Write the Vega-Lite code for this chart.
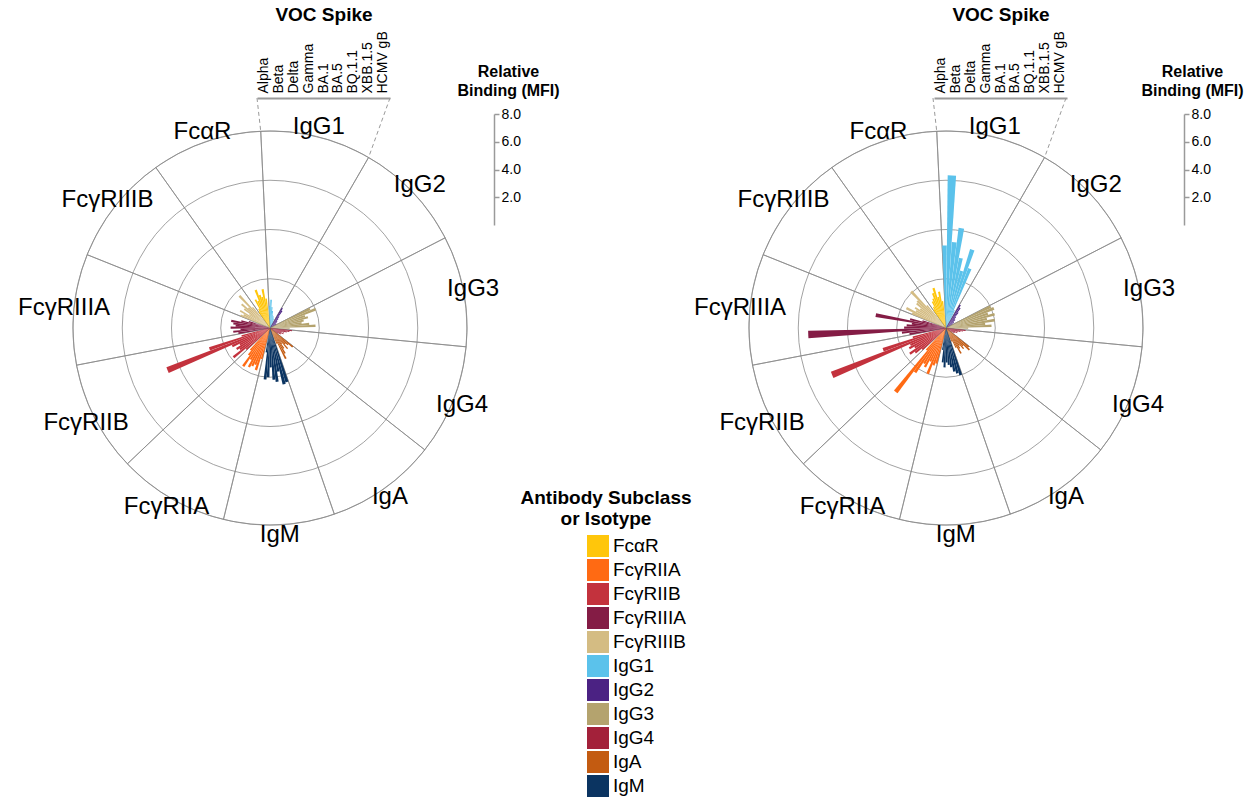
{
"$schema":"https://vega.github.io/schema/vega-lite/v6.json",
"autosize":{"type":"none"},
"padding":{"left":46,"top":104,"right":1211,"bottom":697},
"bounds":"flush",
"spacing":228,
"datasets":{
"sectors":[{"ab":"IgG1"},{"ab":"IgG2"},{"ab":"IgG3"},{"ab":"IgG4"},{"ab":"IgA"},{"ab":"IgM"},{"ab":"FcγRIIA"},{"ab":"FcγRIIB"},{"ab":"FcγRIIIA"},{"ab":"FcγRIIIB"},{"ab":"FcαR"}],
"rings":[{"r":2},{"r":4},{"r":6},{"r":8}],
"vocs":[{"voc":"Alpha"},{"voc":"Beta"},{"voc":"Delta"},{"voc":"Gamma"},{"voc":"BA.1"},{"voc":"BA.5"},{"voc":"BQ.1.1"},{"voc":"XBB.1.5"},{"voc":"HCMV gB"}],
"conn":[{"x":-0.528,"y":9.34,"x2":-0.377,"y2":7.991},{"x":4.873,"y":9.34,"x2":4.003,"y2":6.925}],
"L":[
{"ab":"IgG1","id":"IgG1|Alpha","v":0.9},{"ab":"IgG1","id":"IgG1|Beta","v":1.15},{"ab":"IgG1","id":"IgG1|Delta","v":0.85},{"ab":"IgG1","id":"IgG1|Gamma","v":0.7},{"ab":"IgG1","id":"IgG1|BA.1","v":0.55},{"ab":"IgG1","id":"IgG1|BA.5","v":0.5},{"ab":"IgG1","id":"IgG1|BQ.1.1","v":0.45},{"ab":"IgG1","id":"IgG1|XBB.1.5","v":0.4},{"ab":"IgG1","id":"IgG1|HCMV gB","v":0.3},
{"ab":"IgG2","id":"IgG2|Alpha","v":0.95},{"ab":"IgG2","id":"IgG2|Beta","v":0.85},{"ab":"IgG2","id":"IgG2|Delta","v":0.6},{"ab":"IgG2","id":"IgG2|Gamma","v":0.5},{"ab":"IgG2","id":"IgG2|BA.1","v":0.4},{"ab":"IgG2","id":"IgG2|BA.5","v":0.4},{"ab":"IgG2","id":"IgG2|BQ.1.1","v":0.35},{"ab":"IgG2","id":"IgG2|XBB.1.5","v":0.3},{"ab":"IgG2","id":"IgG2|HCMV gB","v":0.3},
{"ab":"IgG3","id":"IgG3|Alpha","v":1.8},{"ab":"IgG3","id":"IgG3|Beta","v":2.0},{"ab":"IgG3","id":"IgG3|Delta","v":1.5},{"ab":"IgG3","id":"IgG3|Gamma","v":1.6},{"ab":"IgG3","id":"IgG3|BA.1","v":1.4},{"ab":"IgG3","id":"IgG3|BA.5","v":1.3},{"ab":"IgG3","id":"IgG3|BQ.1.1","v":1.6},{"ab":"IgG3","id":"IgG3|XBB.1.5","v":1.85},{"ab":"IgG3","id":"IgG3|HCMV gB","v":0.8},
{"ab":"IgG4","id":"IgG4|Alpha","v":0.9},{"ab":"IgG4","id":"IgG4|Beta","v":0.8},{"ab":"IgG4","id":"IgG4|Delta","v":0.7},{"ab":"IgG4","id":"IgG4|Gamma","v":0.6},{"ab":"IgG4","id":"IgG4|BA.1","v":0.5},{"ab":"IgG4","id":"IgG4|BA.5","v":0.6},{"ab":"IgG4","id":"IgG4|BQ.1.1","v":0.5},{"ab":"IgG4","id":"IgG4|XBB.1.5","v":0.5},{"ab":"IgG4","id":"IgG4|HCMV gB","v":0.4},
{"ab":"IgA","id":"IgA|Alpha","v":1.2},{"ab":"IgA","id":"IgA|Beta","v":1.0},{"ab":"IgA","id":"IgA|Delta","v":0.9},{"ab":"IgA","id":"IgA|Gamma","v":1.1},{"ab":"IgA","id":"IgA|BA.1","v":0.8},{"ab":"IgA","id":"IgA|BA.5","v":1.0},{"ab":"IgA","id":"IgA|BQ.1.1","v":1.2},{"ab":"IgA","id":"IgA|XBB.1.5","v":1.4},{"ab":"IgA","id":"IgA|HCMV gB","v":0.7},
{"ab":"IgM","id":"IgM|Alpha","v":2.3},{"ab":"IgM","id":"IgM|Beta","v":2.35},{"ab":"IgM","id":"IgM|Delta","v":1.8},{"ab":"IgM","id":"IgM|Gamma","v":2.2},{"ab":"IgM","id":"IgM|BA.1","v":2.1},{"ab":"IgM","id":"IgM|BA.5","v":1.6},{"ab":"IgM","id":"IgM|BQ.1.1","v":2.0},{"ab":"IgM","id":"IgM|XBB.1.5","v":2.1},{"ab":"IgM","id":"IgM|HCMV gB","v":1.0},
{"ab":"FcγRIIA","id":"FcγRIIA|Alpha","v":1.3},{"ab":"FcγRIIA","id":"FcγRIIA|Beta","v":1.8},{"ab":"FcγRIIA","id":"FcγRIIA|Delta","v":1.6},{"ab":"FcγRIIA","id":"FcγRIIA|Gamma","v":1.7},{"ab":"FcγRIIA","id":"FcγRIIA|BA.1","v":1.8},{"ab":"FcγRIIA","id":"FcγRIIA|BA.5","v":1.5},{"ab":"FcγRIIA","id":"FcγRIIA|BQ.1.1","v":1.9},{"ab":"FcγRIIA","id":"FcγRIIA|XBB.1.5","v":1.4},{"ab":"FcγRIIA","id":"FcγRIIA|HCMV gB","v":1.2},
{"ab":"FcγRIIB","id":"FcγRIIB|Alpha","v":1.3},{"ab":"FcγRIIB","id":"FcγRIIB|Beta","v":1.9},{"ab":"FcγRIIB","id":"FcγRIIB|Delta","v":1.5},{"ab":"FcγRIIB","id":"FcγRIIB|Gamma","v":1.6},{"ab":"FcγRIIB","id":"FcγRIIB|BA.1","v":1.4},{"ab":"FcγRIIB","id":"FcγRIIB|BA.5","v":1.7},{"ab":"FcγRIIB","id":"FcγRIIB|BQ.1.1","v":4.5},{"ab":"FcγRIIB","id":"FcγRIIB|XBB.1.5","v":2.6},{"ab":"FcγRIIB","id":"FcγRIIB|HCMV gB","v":1.2},
{"ab":"FcγRIIIA","id":"FcγRIIIA|Alpha","v":1.3},{"ab":"FcγRIIIA","id":"FcγRIIIA|Beta","v":1.5},{"ab":"FcγRIIIA","id":"FcγRIIIA|Delta","v":1.2},{"ab":"FcγRIIIA","id":"FcγRIIIA|Gamma","v":1.6},{"ab":"FcγRIIIA","id":"FcγRIIIA|BA.1","v":1.4},{"ab":"FcγRIIIA","id":"FcγRIIIA|BA.5","v":1.5},{"ab":"FcγRIIIA","id":"FcγRIIIA|BQ.1.1","v":1.6},{"ab":"FcγRIIIA","id":"FcγRIIIA|XBB.1.5","v":1.2},{"ab":"FcγRIIIA","id":"FcγRIIIA|HCMV gB","v":0.9},
{"ab":"FcγRIIIB","id":"FcγRIIIB|Alpha","v":1.3},{"ab":"FcγRIIIB","id":"FcγRIIIB|Beta","v":1.2},{"ab":"FcγRIIIB","id":"FcγRIIIB|Delta","v":1.4},{"ab":"FcγRIIIB","id":"FcγRIIIB|Gamma","v":1.0},{"ab":"FcγRIIIB","id":"FcγRIIIB|BA.1","v":1.3},{"ab":"FcγRIIIB","id":"FcγRIIIB|BA.5","v":1.5},{"ab":"FcγRIIIB","id":"FcγRIIIB|BQ.1.1","v":1.2},{"ab":"FcγRIIIB","id":"FcγRIIIB|XBB.1.5","v":1.8},{"ab":"FcγRIIIB","id":"FcγRIIIB|HCMV gB","v":1.1},
{"ab":"FcαR","id":"FcαR|Alpha","v":0.8},{"ab":"FcαR","id":"FcαR|Beta","v":0.9},{"ab":"FcαR","id":"FcαR|Delta","v":1.3},{"ab":"FcαR","id":"FcαR|Gamma","v":1.2},{"ab":"FcαR","id":"FcαR|BA.1","v":1.65},{"ab":"FcαR","id":"FcαR|BA.5","v":1.4},{"ab":"FcαR","id":"FcαR|BQ.1.1","v":1.3},{"ab":"FcαR","id":"FcαR|XBB.1.5","v":1.6},{"ab":"FcαR","id":"FcαR|HCMV gB","v":1.2}
],
"R":[
{"ab":"IgG1","id":"IgG1|Alpha","v":3.35},{"ab":"IgG1","id":"IgG1|Beta","v":6.2},{"ab":"IgG1","id":"IgG1|Delta","v":3.5},{"ab":"IgG1","id":"IgG1|Gamma","v":4.1},{"ab":"IgG1","id":"IgG1|BA.1","v":2.9},{"ab":"IgG1","id":"IgG1|BA.5","v":2.4},{"ab":"IgG1","id":"IgG1|BQ.1.1","v":3.35},{"ab":"IgG1","id":"IgG1|XBB.1.5","v":2.6},{"ab":"IgG1","id":"IgG1|HCMV gB","v":0.8},
{"ab":"IgG2","id":"IgG2|Alpha","v":1.1},{"ab":"IgG2","id":"IgG2|Beta","v":1.0},{"ab":"IgG2","id":"IgG2|Delta","v":0.8},{"ab":"IgG2","id":"IgG2|Gamma","v":0.6},{"ab":"IgG2","id":"IgG2|BA.1","v":0.5},{"ab":"IgG2","id":"IgG2|BA.5","v":0.5},{"ab":"IgG2","id":"IgG2|BQ.1.1","v":0.4},{"ab":"IgG2","id":"IgG2|XBB.1.5","v":0.4},{"ab":"IgG2","id":"IgG2|HCMV gB","v":0.3},
{"ab":"IgG3","id":"IgG3|Alpha","v":2.0},{"ab":"IgG3","id":"IgG3|Beta","v":2.1},{"ab":"IgG3","id":"IgG3|Delta","v":1.8},{"ab":"IgG3","id":"IgG3|Gamma","v":2.05},{"ab":"IgG3","id":"IgG3|BA.1","v":1.7},{"ab":"IgG3","id":"IgG3|BA.5","v":2.0},{"ab":"IgG3","id":"IgG3|BQ.1.1","v":1.6},{"ab":"IgG3","id":"IgG3|XBB.1.5","v":1.85},{"ab":"IgG3","id":"IgG3|HCMV gB","v":0.9},
{"ab":"IgG4","id":"IgG4|Alpha","v":0.8},{"ab":"IgG4","id":"IgG4|Beta","v":0.7},{"ab":"IgG4","id":"IgG4|Delta","v":0.6},{"ab":"IgG4","id":"IgG4|Gamma","v":0.5},{"ab":"IgG4","id":"IgG4|BA.1","v":0.4},{"ab":"IgG4","id":"IgG4|BA.5","v":0.5},{"ab":"IgG4","id":"IgG4|BQ.1.1","v":0.4},{"ab":"IgG4","id":"IgG4|XBB.1.5","v":0.4},{"ab":"IgG4","id":"IgG4|HCMV gB","v":0.3},
{"ab":"IgA","id":"IgA|Alpha","v":1.2},{"ab":"IgA","id":"IgA|Beta","v":1.3},{"ab":"IgA","id":"IgA|Delta","v":1.0},{"ab":"IgA","id":"IgA|Gamma","v":1.1},{"ab":"IgA","id":"IgA|BA.1","v":0.9},{"ab":"IgA","id":"IgA|BA.5","v":1.0},{"ab":"IgA","id":"IgA|BQ.1.1","v":1.2},{"ab":"IgA","id":"IgA|XBB.1.5","v":0.9},{"ab":"IgA","id":"IgA|HCMV gB","v":0.6},
{"ab":"IgM","id":"IgM|Alpha","v":2.0},{"ab":"IgM","id":"IgM|Beta","v":1.9},{"ab":"IgM","id":"IgM|Delta","v":1.8},{"ab":"IgM","id":"IgM|Gamma","v":1.6},{"ab":"IgM","id":"IgM|BA.1","v":1.5},{"ab":"IgM","id":"IgM|BA.5","v":1.4},{"ab":"IgM","id":"IgM|BQ.1.1","v":1.6},{"ab":"IgM","id":"IgM|XBB.1.5","v":1.4},{"ab":"IgM","id":"IgM|HCMV gB","v":0.9},
{"ab":"FcγRIIA","id":"FcγRIIA|Alpha","v":1.5},{"ab":"FcγRIIA","id":"FcγRIIA|Beta","v":1.6},{"ab":"FcγRIIA","id":"FcγRIIA|Delta","v":2.0},{"ab":"FcγRIIA","id":"FcγRIIA|Gamma","v":1.5},{"ab":"FcγRIIA","id":"FcγRIIA|BA.1","v":1.8},{"ab":"FcγRIIA","id":"FcγRIIA|BA.5","v":1.7},{"ab":"FcγRIIA","id":"FcγRIIA|BQ.1.1","v":2.2},{"ab":"FcγRIIA","id":"FcγRIIA|XBB.1.5","v":3.3},{"ab":"FcγRIIA","id":"FcγRIIA|HCMV gB","v":1.2},
{"ab":"FcγRIIB","id":"FcγRIIB|Alpha","v":1.3},{"ab":"FcγRIIB","id":"FcγRIIB|Beta","v":1.6},{"ab":"FcγRIIB","id":"FcγRIIB|Delta","v":1.8},{"ab":"FcγRIIB","id":"FcγRIIB|Gamma","v":1.5},{"ab":"FcγRIIB","id":"FcγRIIB|BA.1","v":1.7},{"ab":"FcγRIIB","id":"FcγRIIB|BA.5","v":1.6},{"ab":"FcγRIIB","id":"FcγRIIB|BQ.1.1","v":5.0},{"ab":"FcγRIIB","id":"FcγRIIB|XBB.1.5","v":2.7},{"ab":"FcγRIIB","id":"FcγRIIB|HCMV gB","v":1.4},
{"ab":"FcγRIIIA","id":"FcγRIIIA|Alpha","v":1.5},{"ab":"FcγRIIIA","id":"FcγRIIIA|Beta","v":1.8},{"ab":"FcγRIIIA","id":"FcγRIIIA|Delta","v":5.6},{"ab":"FcγRIIIA","id":"FcγRIIIA|Gamma","v":1.7},{"ab":"FcγRIIIA","id":"FcγRIIIA|BA.1","v":1.6},{"ab":"FcγRIIIA","id":"FcγRIIIA|BA.5","v":1.4},{"ab":"FcγRIIIA","id":"FcγRIIIA|BQ.1.1","v":2.9},{"ab":"FcγRIIIA","id":"FcγRIIIA|XBB.1.5","v":1.5},{"ab":"FcγRIIIA","id":"FcγRIIIA|HCMV gB","v":1.0},
{"ab":"FcγRIIIB","id":"FcγRIIIB|Alpha","v":1.5},{"ab":"FcγRIIIB","id":"FcγRIIIB|Beta","v":1.8},{"ab":"FcγRIIIB","id":"FcγRIIIB|Delta","v":1.4},{"ab":"FcγRIIIB","id":"FcγRIIIB|Gamma","v":1.5},{"ab":"FcγRIIIB","id":"FcγRIIIB|BA.1","v":1.3},{"ab":"FcγRIIIB","id":"FcγRIIIB|BA.5","v":1.55},{"ab":"FcγRIIIB","id":"FcγRIIIB|BQ.1.1","v":1.6},{"ab":"FcγRIIIB","id":"FcγRIIIB|XBB.1.5","v":2.05},{"ab":"FcγRIIIB","id":"FcγRIIIB|HCMV gB","v":1.2},
{"ab":"FcαR","id":"FcαR|Alpha","v":0.9},{"ab":"FcαR","id":"FcαR|Beta","v":1.0},{"ab":"FcαR","id":"FcαR|Delta","v":1.2},{"ab":"FcαR","id":"FcαR|Gamma","v":1.3},{"ab":"FcαR","id":"FcαR|BA.1","v":1.5},{"ab":"FcαR","id":"FcαR|BA.5","v":1.7},{"ab":"FcαR","id":"FcαR|BQ.1.1","v":1.3},{"ab":"FcαR","id":"FcαR|XBB.1.5","v":1.5},{"ab":"FcαR","id":"FcαR|HCMV gB","v":1.1}
]
},
"hconcat":[
{
"width":448,"height":448,
"layer":[
{"data":{"name":"rings"},"mark":{"type":"arc","filled":false,"stroke":"#8a8a8a","strokeWidth":0.8},
 "encoding":{"radius":{"field":"r","type":"quantitative","stack":null,"scale":{"type":"linear","domain":[0,8],"range":[0,197]}}}},
{"data":{"name":"sectors"},"mark":{"type":"arc","filled":false,"stroke":"#8a8a8a","strokeWidth":0.8},
 "encoding":{"theta":{"field":"ab","type":"nominal","scale":{"type":"band","domain":["IgG1","IgG2","IgG3","IgG4","IgA","IgM","FcγRIIA","FcγRIIB","FcγRIIIA","FcγRIIIB","FcαR"],"range":[-0.0471,6.2361]}},
  "radius":{"datum":8,"type":"quantitative","scale":{"type":"linear","domain":[0,8],"range":[0,197]}}}},
{"data":{"name":"L"},"mark":{"type":"arc","padAngle":0.002},
 "encoding":{"theta":{"field":"id","type":"nominal","scale":{"type":"band","domain":["IgG1|Alpha","IgG1|Beta","IgG1|Delta","IgG1|Gamma","IgG1|BA.1","IgG1|BA.5","IgG1|BQ.1.1","IgG1|XBB.1.5","IgG1|HCMV gB","IgG1|_","IgG2|Alpha","IgG2|Beta","IgG2|Delta","IgG2|Gamma","IgG2|BA.1","IgG2|BA.5","IgG2|BQ.1.1","IgG2|XBB.1.5","IgG2|HCMV gB","IgG2|_","IgG3|Alpha","IgG3|Beta","IgG3|Delta","IgG3|Gamma","IgG3|BA.1","IgG3|BA.5","IgG3|BQ.1.1","IgG3|XBB.1.5","IgG3|HCMV gB","IgG3|_","IgG4|Alpha","IgG4|Beta","IgG4|Delta","IgG4|Gamma","IgG4|BA.1","IgG4|BA.5","IgG4|BQ.1.1","IgG4|XBB.1.5","IgG4|HCMV gB","IgG4|_","IgA|Alpha","IgA|Beta","IgA|Delta","IgA|Gamma","IgA|BA.1","IgA|BA.5","IgA|BQ.1.1","IgA|XBB.1.5","IgA|HCMV gB","IgA|_","IgM|Alpha","IgM|Beta","IgM|Delta","IgM|Gamma","IgM|BA.1","IgM|BA.5","IgM|BQ.1.1","IgM|XBB.1.5","IgM|HCMV gB","IgM|_","FcγRIIA|Alpha","FcγRIIA|Beta","FcγRIIA|Delta","FcγRIIA|Gamma","FcγRIIA|BA.1","FcγRIIA|BA.5","FcγRIIA|BQ.1.1","FcγRIIA|XBB.1.5","FcγRIIA|HCMV gB","FcγRIIA|_","FcγRIIB|Alpha","FcγRIIB|Beta","FcγRIIB|Delta","FcγRIIB|Gamma","FcγRIIB|BA.1","FcγRIIB|BA.5","FcγRIIB|BQ.1.1","FcγRIIB|XBB.1.5","FcγRIIB|HCMV gB","FcγRIIB|_","FcγRIIIA|Alpha","FcγRIIIA|Beta","FcγRIIIA|Delta","FcγRIIIA|Gamma","FcγRIIIA|BA.1","FcγRIIIA|BA.5","FcγRIIIA|BQ.1.1","FcγRIIIA|XBB.1.5","FcγRIIIA|HCMV gB","FcγRIIIA|_","FcγRIIIB|Alpha","FcγRIIIB|Beta","FcγRIIIB|Delta","FcγRIIIB|Gamma","FcγRIIIB|BA.1","FcγRIIIB|BA.5","FcγRIIIB|BQ.1.1","FcγRIIIB|XBB.1.5","FcγRIIIB|HCMV gB","FcγRIIIB|_","FcαR|Alpha","FcαR|Beta","FcαR|Delta","FcαR|Gamma","FcαR|BA.1","FcαR|BA.5","FcαR|BQ.1.1","FcαR|XBB.1.5","FcαR|HCMV gB","FcαR|_"],"range":[-0.0471,6.2361]}},
  "radius":{"field":"v","type":"quantitative","stack":null,"scale":{"type":"linear","domain":[0,8],"range":[0,197]}},
  "color":{"field":"ab","type":"nominal","scale":{"domain":["FcαR","FcγRIIA","FcγRIIB","FcγRIIIA","FcγRIIIB","IgG1","IgG2","IgG3","IgG4","IgA","IgM"],"range":["#FFC60B","#FF6A13","#C3323D","#841C45","#D4BC83","#5BC2EB","#4B2283","#B4A36E","#A3213A","#C35B11","#0B3461"]},"legend":{"title":["Antibody Subclass","or Isotype"]}}}},
{"data":{"name":"sectors"},"mark":{"type":"text","fontSize":24,"align":"center","baseline":"middle","color":"#000"},
 "encoding":{"theta":{"field":"ab","type":"nominal","bandPosition":0.5,"scale":{"type":"band","domain":["IgG1","IgG2","IgG3","IgG4","IgA","IgM","FcγRIIA","FcγRIIB","FcγRIIIA","FcγRIIIB","FcαR"],"range":[-0.0471,6.2361]}},
  "radius":{"datum":8.4,"type":"quantitative","scale":{"type":"linear","domain":[0,8],"range":[0,197]}},
  "text":{"field":"ab"}}},
{"data":{"name":"vocs"},"mark":{"type":"point","opacity":0},
 "encoding":{"x":{"field":"voc","type":"nominal","sort":null,"scale":{"type":"band","domain":["Alpha","Beta","Delta","Gamma","BA.1","BA.5","BQ.1.1","XBB.1.5","HCMV gB"],"range":[211,344],"paddingInner":0,"paddingOuter":0},
  "axis":{"orient":"top","offset":6,"ticks":false,"grid":false,"labelAngle":-90,"labelFontSize":14,"labelColor":"#000","labelPadding":5,"domainColor":"#9a9a9a","domainWidth":2,"title":"VOC Spike","titleFontSize":19,"titleFontWeight":"bold","titleColor":"#000","titlePadding":6}}}},
{"data":{"name":"conn"},"mark":{"type":"rule","strokeDash":[4,3],"color":"#9a9a9a","strokeWidth":1},
 "encoding":{"x":{"field":"x","type":"quantitative","scale":{"domain":[-9.0964,9.0964]},"axis":null},"y":{"field":"y","type":"quantitative","scale":{"domain":[-9.0964,9.0964]},"axis":null},"x2":{"field":"x2"},"y2":{"field":"y2"}}},
{"data":{"name":"rings"},"mark":{"type":"point","opacity":0},
 "encoding":{"y":{"field":"r","type":"quantitative","scale":{"domain":[0,8],"range":[121,10]},
  "axis":{"orient":"right","offset":0,"values":[2,4,6,8],"format":".1f","grid":false,"tickSize":5,"tickColor":"#9a9a9a","tickWidth":1.5,"domainColor":"#9a9a9a","domainWidth":1.5,"labelFontSize":14,"labelColor":"#000","labelPadding":2,"title":["Relative","Binding (MFI)"],"titleAngle":0,"titleFontSize":16,"titleFontWeight":"bold","titleColor":"#000","titleAlign":"center","titleBaseline":"alphabetic","titleX":14,"titleY":-28,"titleLineHeight":19}}}}
],
"resolve":{"scale":{"theta":"independent","x":"independent","y":"independent"}}
},
{
"width":448,"height":448,
"layer":[
{"data":{"name":"rings"},"mark":{"type":"arc","filled":false,"stroke":"#8a8a8a","strokeWidth":0.8},
 "encoding":{"radius":{"field":"r","type":"quantitative","stack":null,"scale":{"type":"linear","domain":[0,8],"range":[0,197]}}}},
{"data":{"name":"sectors"},"mark":{"type":"arc","filled":false,"stroke":"#8a8a8a","strokeWidth":0.8},
 "encoding":{"theta":{"field":"ab","type":"nominal","scale":{"type":"band","domain":["IgG1","IgG2","IgG3","IgG4","IgA","IgM","FcγRIIA","FcγRIIB","FcγRIIIA","FcγRIIIB","FcαR"],"range":[-0.0471,6.2361]}},
  "radius":{"datum":8,"type":"quantitative","scale":{"type":"linear","domain":[0,8],"range":[0,197]}}}},
{"data":{"name":"R"},"mark":{"type":"arc","padAngle":0.002},
 "encoding":{"theta":{"field":"id","type":"nominal","scale":{"type":"band","domain":["IgG1|Alpha","IgG1|Beta","IgG1|Delta","IgG1|Gamma","IgG1|BA.1","IgG1|BA.5","IgG1|BQ.1.1","IgG1|XBB.1.5","IgG1|HCMV gB","IgG1|_","IgG2|Alpha","IgG2|Beta","IgG2|Delta","IgG2|Gamma","IgG2|BA.1","IgG2|BA.5","IgG2|BQ.1.1","IgG2|XBB.1.5","IgG2|HCMV gB","IgG2|_","IgG3|Alpha","IgG3|Beta","IgG3|Delta","IgG3|Gamma","IgG3|BA.1","IgG3|BA.5","IgG3|BQ.1.1","IgG3|XBB.1.5","IgG3|HCMV gB","IgG3|_","IgG4|Alpha","IgG4|Beta","IgG4|Delta","IgG4|Gamma","IgG4|BA.1","IgG4|BA.5","IgG4|BQ.1.1","IgG4|XBB.1.5","IgG4|HCMV gB","IgG4|_","IgA|Alpha","IgA|Beta","IgA|Delta","IgA|Gamma","IgA|BA.1","IgA|BA.5","IgA|BQ.1.1","IgA|XBB.1.5","IgA|HCMV gB","IgA|_","IgM|Alpha","IgM|Beta","IgM|Delta","IgM|Gamma","IgM|BA.1","IgM|BA.5","IgM|BQ.1.1","IgM|XBB.1.5","IgM|HCMV gB","IgM|_","FcγRIIA|Alpha","FcγRIIA|Beta","FcγRIIA|Delta","FcγRIIA|Gamma","FcγRIIA|BA.1","FcγRIIA|BA.5","FcγRIIA|BQ.1.1","FcγRIIA|XBB.1.5","FcγRIIA|HCMV gB","FcγRIIA|_","FcγRIIB|Alpha","FcγRIIB|Beta","FcγRIIB|Delta","FcγRIIB|Gamma","FcγRIIB|BA.1","FcγRIIB|BA.5","FcγRIIB|BQ.1.1","FcγRIIB|XBB.1.5","FcγRIIB|HCMV gB","FcγRIIB|_","FcγRIIIA|Alpha","FcγRIIIA|Beta","FcγRIIIA|Delta","FcγRIIIA|Gamma","FcγRIIIA|BA.1","FcγRIIIA|BA.5","FcγRIIIA|BQ.1.1","FcγRIIIA|XBB.1.5","FcγRIIIA|HCMV gB","FcγRIIIA|_","FcγRIIIB|Alpha","FcγRIIIB|Beta","FcγRIIIB|Delta","FcγRIIIB|Gamma","FcγRIIIB|BA.1","FcγRIIIB|BA.5","FcγRIIIB|BQ.1.1","FcγRIIIB|XBB.1.5","FcγRIIIB|HCMV gB","FcγRIIIB|_","FcαR|Alpha","FcαR|Beta","FcαR|Delta","FcαR|Gamma","FcαR|BA.1","FcαR|BA.5","FcαR|BQ.1.1","FcαR|XBB.1.5","FcαR|HCMV gB","FcαR|_"],"range":[-0.0471,6.2361]}},
  "radius":{"field":"v","type":"quantitative","stack":null,"scale":{"type":"linear","domain":[0,8],"range":[0,197]}},
  "color":{"field":"ab","type":"nominal","scale":{"domain":["FcαR","FcγRIIA","FcγRIIB","FcγRIIIA","FcγRIIIB","IgG1","IgG2","IgG3","IgG4","IgA","IgM"],"range":["#FFC60B","#FF6A13","#C3323D","#841C45","#D4BC83","#5BC2EB","#4B2283","#B4A36E","#A3213A","#C35B11","#0B3461"]},"legend":{"title":["Antibody Subclass","or Isotype"]}}}},
{"data":{"name":"sectors"},"mark":{"type":"text","fontSize":24,"align":"center","baseline":"middle","color":"#000"},
 "encoding":{"theta":{"field":"ab","type":"nominal","bandPosition":0.5,"scale":{"type":"band","domain":["IgG1","IgG2","IgG3","IgG4","IgA","IgM","FcγRIIA","FcγRIIB","FcγRIIIA","FcγRIIIB","FcαR"],"range":[-0.0471,6.2361]}},
  "radius":{"datum":8.4,"type":"quantitative","scale":{"type":"linear","domain":[0,8],"range":[0,197]}},
  "text":{"field":"ab"}}},
{"data":{"name":"vocs"},"mark":{"type":"point","opacity":0},
 "encoding":{"x":{"field":"voc","type":"nominal","sort":null,"scale":{"type":"band","domain":["Alpha","Beta","Delta","Gamma","BA.1","BA.5","BQ.1.1","XBB.1.5","HCMV gB"],"range":[212,345],"paddingInner":0,"paddingOuter":0},
  "axis":{"orient":"top","offset":6,"ticks":false,"grid":false,"labelAngle":-90,"labelFontSize":14,"labelColor":"#000","labelPadding":5,"domainColor":"#9a9a9a","domainWidth":2,"title":"VOC Spike","titleFontSize":19,"titleFontWeight":"bold","titleColor":"#000","titlePadding":6}}}},
{"data":{"name":"conn"},"mark":{"type":"rule","strokeDash":[4,3],"color":"#9a9a9a","strokeWidth":1},
 "encoding":{"x":{"field":"x","type":"quantitative","scale":{"domain":[-9.0964,9.0964]},"axis":null},"y":{"field":"y","type":"quantitative","scale":{"domain":[-9.0964,9.0964]},"axis":null},"x2":{"field":"x2"},"y2":{"field":"y2"}}},
{"data":{"name":"rings"},"mark":{"type":"point","opacity":0},
 "encoding":{"y":{"field":"r","type":"quantitative","scale":{"domain":[0,8],"range":[121,10]},
  "axis":{"orient":"right","offset":14,"values":[2,4,6,8],"format":".1f","grid":false,"tickSize":5,"tickColor":"#9a9a9a","tickWidth":1.5,"domainColor":"#9a9a9a","domainWidth":1.5,"labelFontSize":14,"labelColor":"#000","labelPadding":2,"title":["Relative","Binding (MFI)"],"titleAngle":0,"titleFontSize":16,"titleFontWeight":"bold","titleColor":"#000","titleAlign":"center","titleBaseline":"alphabetic","titleX":8,"titleY":-28,"titleLineHeight":19}}}}
],
"resolve":{"scale":{"theta":"independent","x":"independent","y":"independent"}}
}
],
"config":{
"font":"Liberation Sans",
"view":{"stroke":null},
"legend":{"orient":"none","legendX":474,"legendY":385,"titleFontSize":19,"titleFontWeight":"bold","titleAlign":"center","titleAnchor":"middle","titleColor":"#000","titleLineHeight":21,"titlePadding":6,"titleLimit":400,"symbolType":"square","symbolSize":484,"symbolStrokeWidth":0,"symbolOpacity":1,"labelFontSize":19,"labelColor":"#000","rowPadding":2,"symbolOffset":61,"labelOffset":4}
}
}
